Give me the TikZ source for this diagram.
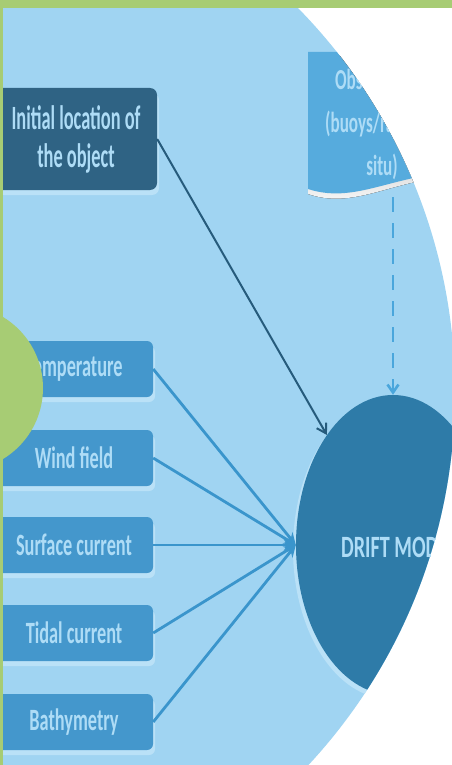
\documentclass[tikz,border=0pt]{standalone}
\usepackage{fontspec}
\setmainfont{Carlito}
\usetikzlibrary{shapes.geometric,arrows.meta,shadows}

\definecolor{sky}{HTML}{A0D4F2}
\definecolor{leaf}{HTML}{A7CC74}
\definecolor{navy}{HTML}{2F6384}
\definecolor{midblue}{HTML}{4497CC}
\definecolor{shade}{HTML}{BAE1F7}
\definecolor{paletext}{HTML}{AEDCF6}
\definecolor{linkblue}{HTML}{3A95CC}
\definecolor{darklink}{HTML}{265B7C}
\definecolor{modelblue}{HTML}{2E7BA8}
\definecolor{docblue}{HTML}{56ABDD}
\definecolor{dashblue}{HTML}{4AA6DC}

% horizontally condensed lettering
\newcommand{\narrowtext}[2]{\scalebox{#1}[1]{#2}}

\tikzset{
  inbox/.style={rectangle, rounded corners=6pt, fill=midblue, text=paletext,
    minimum width=158pt, minimum height=56pt, inner sep=0pt,
    font=\fontsize{31}{34}\selectfont\bfseries,
    drop shadow={shadow xshift=2pt, shadow yshift=-5pt, fill=shade, opacity=1}},
  startbox/.style={rectangle, rounded corners=7pt, fill=navy, text=paletext,
    minimum width=162pt, minimum height=102pt, inner sep=0pt, align=center,
    font=\fontsize{34}{38}\selectfont\bfseries,
    drop shadow={shadow xshift=2pt, shadow yshift=-5pt, fill=shade, opacity=1}},
  feed/.style={draw=linkblue, line width=2.8pt, -{Stealth[length=12pt,width=11pt]}},
  locate/.style={draw=darklink, line width=2pt, -{Straight Barb[length=9pt,width=11pt]}},
  observe/.style={draw=dashblue, line width=2.6pt, dash pattern=on 15pt off 11pt,
    -{Straight Barb[length=8pt,width=11pt]}},
}

\begin{document}
\begin{tikzpicture}[x=1pt,y=-1pt]
\useasboundingbox (0,0) rectangle (452,765);
\fill[white] (0,0) rectangle (452,765);

\begin{scope}
  \clip (0,0) rectangle (452,765);
  \clip (-93,392) circle [radius=548];
  \fill[sky] (0,0) rectangle (452,765);

  % observation document shape
  \fill[shade] (308,56) -- (480,56) -- (480,176)
      .. controls (400,172) and (360,212) .. (308,194) -- cycle;
  \fill[docblue] (308,52) -- (480,52) -- (480,172)
      .. controls (400,168) and (360,206) .. (308,189) -- cycle;
  \node[text=paletext, align=center, inner sep=0pt,
        font=\fontsize{29}{43}\selectfont\bfseries] (obs) at (382,124)
    {\narrowtext{0.59}{Observations}\\\narrowtext{0.59}{(buoys/radar/in}\\\narrowtext{0.59}{situ)}};
  \coordinate (obsfoot) at (393,197);

  % drift model
  \node[ellipse, fill=modelblue, minimum width=194pt, minimum height=300pt, inner sep=0pt,
        drop shadow={shadow xshift=-3pt, shadow yshift=-4pt, fill=shade, opacity=1}]
    (drift) at (393,545) {};
  \node[anchor=west, inner sep=0pt, text=paletext, font=\fontsize{31}{34}\selectfont\bfseries]
    (driftlabel) at (341,547) {\narrowtext{0.65}{DRIFT MODEL}};

  % inputs
  \node[startbox] (init) at (76,139)
    {\narrowtext{0.54}{Initial location of}\\\narrowtext{0.54}{the object}};
  \node[inbox] (temp) at (74,369) {\narrowtext{0.59}{Temperature}};
  \node[inbox] (wind) at (74,458) {\narrowtext{0.59}{Wind field}};
  \node[inbox] (surf) at (74,545) {\narrowtext{0.59}{Surface current}};
  \node[inbox] (tide) at (74,633) {\narrowtext{0.59}{Tidal current}};
  \node[inbox] (bath) at (74,722) {\narrowtext{0.59}{Bathymetry}};

  % connectors
  \draw[feed] (temp.east) -- (drift.west);
  \draw[feed] (wind.east) -- (drift.west);
  \draw[feed] (surf.east) -- (drift.west);
  \draw[feed] (tide.east) -- (drift.west);
  \draw[feed] (bath.east) -- (drift.west);
  \draw[locate] (init.east) -- (drift.121);
  \draw[observe] (obsfoot) -- (drift.north);
\end{scope}

% green frame and disc
\fill[leaf] (0,0) rectangle (452,8);
\fill[leaf] (0,0) rectangle (3,765);
\fill[leaf] (-40,388) circle [radius=83];
\end{tikzpicture}
\end{document}
